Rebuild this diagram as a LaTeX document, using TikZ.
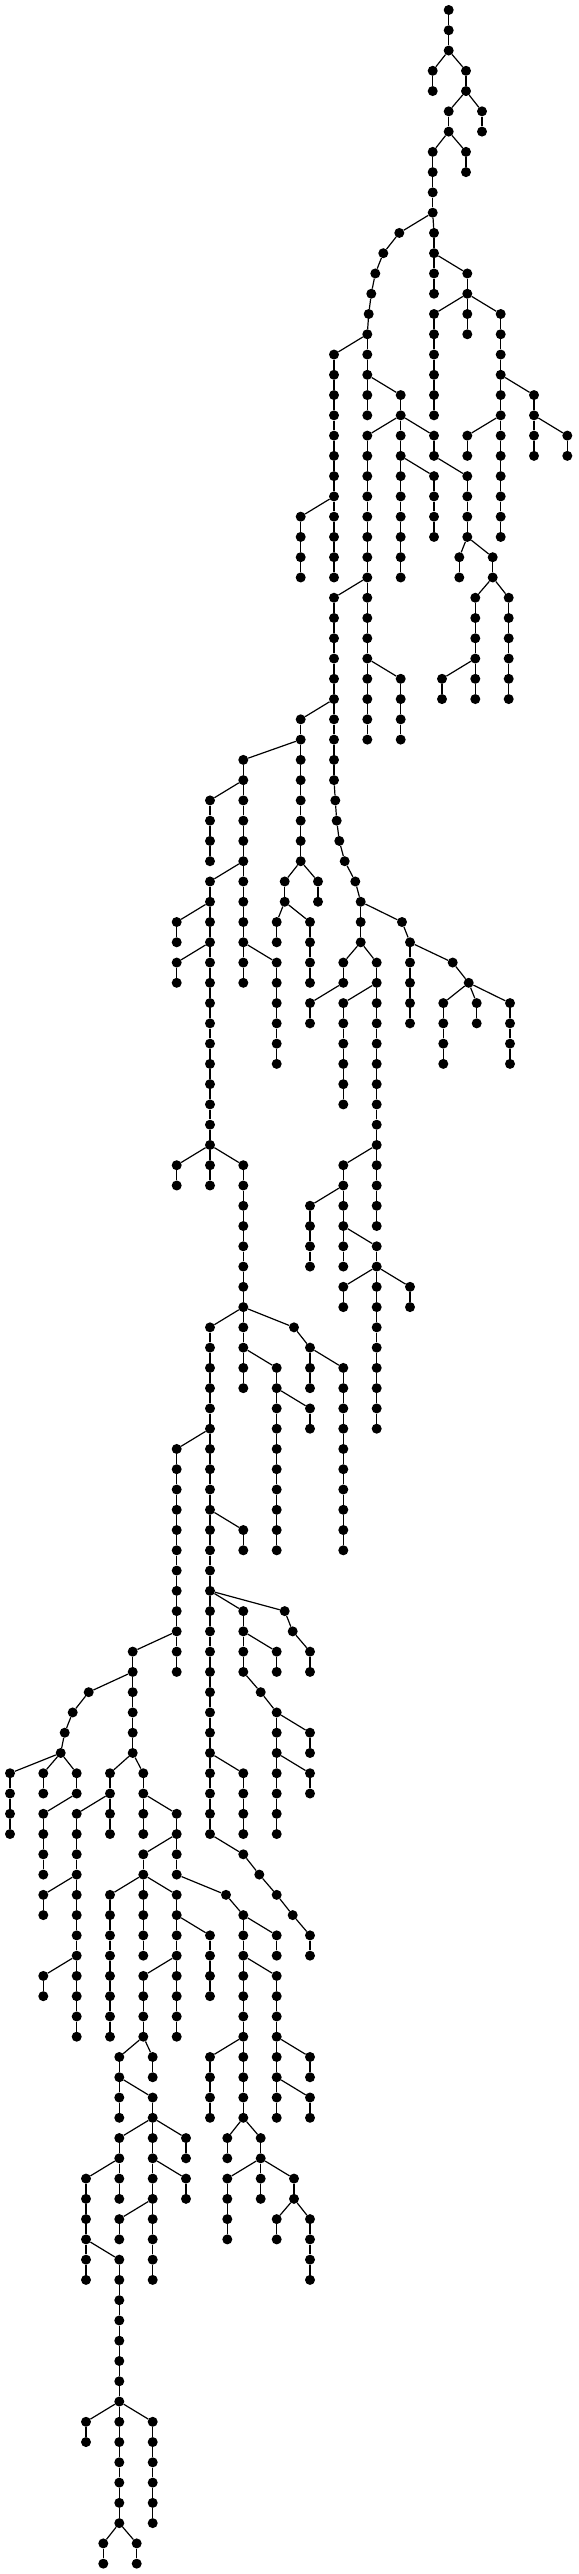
\documentclass[tikz,border=0pt]{standalone}
\tikzset{
  dot/.style={circle,fill=black,draw=none,minimum size=10pt,inner sep=0pt},
  edge/.style={line width=1.2pt,black}
}
\newcommand\tchn[4]{%
  \foreach \rr in {#3,...,#4}{\node[dot] (#1-\rr) at (#2,{-10-20.267*\rr}) {};}%
  \ifnum#3<#4\relax
    \foreach \rr in {#3,...,#4}{\ifnum\rr<#4\relax\pgfmathtruncatemacro\qq{\rr+1}\draw[edge] (#1-\rr) -- (#1-\qq);\fi}%
  \fi}
\newcommand\tnd[3]{\node[dot] (#1) at (#2,{-10-20.267*#3}) {};}
\newcommand\tedge[2]{\draw[edge] (#1) -- (#2);}
\begin{document}
\begin{tikzpicture}[x=1pt,y=1pt]
\fill[white] (0,0) rectangle (578,-2574);
\useasboundingbox (0,0) rectangle (578,-2574);
% top
\tchn{a}{448.7}{0}{2}
\tchn{b}{432.7}{3}{4} \tedge{a-2}{b-3}
\tchn{c}{466}{3}{4} \tedge{a-2}{c-3}
\tchn{d}{448.7}{5}{6} \tedge{c-4}{d-5}
\tchn{e}{482}{5}{6} \tedge{c-4}{e-5}
\tchn{f}{432.7}{7}{10} \tedge{d-6}{f-7}
\tchn{g}{466}{7}{8} \tedge{d-6}{g-7}
\tnd{h-11}{399.3}{11} \tnd{h-12}{383.3}{12} \tnd{h-13}{375.3}{13}
\tnd{h-14}{371.3}{14} \tnd{h-15}{368.7}{15} \tnd{h-16}{367.3}{16}
\tedge{f-10}{h-11} \tedge{h-11}{h-12} \tedge{h-12}{h-13} \tedge{h-13}{h-14}
\tedge{h-14}{h-15} \tedge{h-15}{h-16}
\tchn{i}{434}{11}{14} \tedge{f-10}{i-11}
\tchn{j}{467.3}{13}{16} \tedge{i-12}{j-13}
\tchn{k}{434}{15}{20} \tedge{j-14}{k-15}
\tchn{l}{500.7}{15}{26} \tedge{j-14}{l-15}
\tchn{m}{534}{19}{22} \tedge{l-18}{m-19}
\tchn{n}{567.3}{21}{22} \tedge{m-20}{n-21}
\tchn{o}{467.3}{21}{22} \tedge{l-20}{o-21}
\tchn{p}{334}{17}{28} \tedge{h-16}{p-17}
\tchn{q}{300.7}{25}{28} \tedge{p-24}{q-25}
\tchn{r}{367.3}{17}{20} \tedge{h-16}{r-17}
\tchn{s}{400.7}{19}{28} \tedge{r-18}{s-19}
\tchn{t}{367.3}{21}{36} \tedge{s-20}{t-21}
\tchn{u}{434}{21}{22} \tedge{s-20}{u-21}
\tchn{v}{434}{23}{26} \tedge{s-22}{v-23}
\tchn{y}{467.3}{23}{26} \tedge{u-22}{y-23}
\tchn{z}{459.3}{27}{28} \tedge{y-26}{z-27}
\tchn{aa}{492.7}{27}{28} \tedge{y-26}{aa-27}
\tchn{ab}{475.3}{29}{34} \tedge{aa-28}{ab-29}
\tchn{ac}{508.7}{29}{34} \tedge{aa-28}{ac-29}
\tchn{ad}{442}{33}{34} \tedge{ab-32}{ad-33}
\tchn{x}{400.7}{33}{36} \tedge{t-32}{x-33}
\tchn{w}{334}{29}{38} \tedge{t-28}{w-29}
\tnd{w-39}{335.3}{39} \tnd{w-40}{336.7}{40} \tnd{w-41}{339.3}{41}
\tnd{w-42}{344.7}{42} \tnd{w-43}{355.3}{43} \tnd{w-44}{360.7}{44}
\tedge{w-38}{w-39} \tedge{w-39}{w-40} \tedge{w-40}{w-41} \tedge{w-41}{w-42}
\tedge{w-42}{w-43} \tedge{w-43}{w-44}
\tchn{ae}{300.7}{35}{42} \tedge{w-34}{ae-35}
\tchn{ah}{318}{43}{44} \tedge{ae-42}{ah-43}
\tchn{ag}{284.7}{43}{44} \tedge{ae-42}{ag-43}
\tchn{ai}{276.7}{45}{46} \tedge{ag-44}{ai-45}
\tchn{aj}{310}{45}{48} \tedge{ag-44}{aj-45}
\tchn{af}{243.3}{37}{48} \tedge{ae-36}{af-37}
\tchn{ak}{210}{39}{42} \tedge{af-38}{ak-39}
\tchn{al}{210}{43}{58} \tedge{af-42}{al-43}
\tchn{am}{276.7}{47}{52} \tedge{af-46}{am-47}
\tchn{an}{176.7}{45}{46} \tedge{al-44}{an-45}
\tchn{ao}{176.7}{47}{48} \tedge{al-46}{ao-47}
\tchn{ap}{176.7}{57}{58} \tedge{al-56}{ap-57}
\tchn{aq}{243.3}{57}{68} \tedge{al-56}{aq-57}
\tchn{ar}{210}{65}{90} \tedge{aq-64}{ar-65}
\tnd{as-65}{294}{65} \tedge{aq-64}{as-65}
\tchn{bb}{310}{66}{68} \tedge{as-65}{bb-66}
\tchn{bc}{343.3}{67}{76} \tedge{bb-66}{bc-67}
\tchn{at}{276.7}{67}{76} \tedge{aq-66}{at-67}
\tchn{bd}{310}{69}{70} \tedge{at-68}{bd-69}
\tchn{au}{176.7}{71}{82} \tedge{ar-70}{au-71}
\tchn{av}{243.3}{75}{76} \tedge{ar-74}{av-75}
\tchn{be}{360.7}{45}{46} \tedge{w-44}{be-45}
\tchn{bf}{343.3}{47}{48} \tedge{be-46}{bf-47}
\tchn{bh}{310}{49}{50} \tedge{bf-48}{bh-49}
\tchn{bg}{376.7}{47}{60} \tedge{be-46}{bg-47}
\tchn{bi}{343.3}{49}{54} \tedge{bg-48}{bi-49}
\tchn{bj}{343.3}{57}{62} \tedge{bg-56}{bj-57}
\tchn{bk}{310}{59}{62} \tedge{bj-58}{bk-59}
\tchn{bl}{376.7}{61}{70} \tedge{bj-60}{bl-61}
\tchn{bm}{343.3}{63}{64} \tedge{bl-62}{bm-63}
\tchn{bn}{410}{63}{64} \tedge{bl-62}{bn-63}
\tnd{bo-45}{402}{45} \tedge{w-44}{bo-45}
\tchn{bp}{410}{46}{50} \tedge{bo-45}{bp-46}
\tnd{bq-47}{452.7}{47} \tedge{bp-46}{bq-47}
\tnd{br-48}{468.7}{48} \tedge{bq-47}{br-48}
\tchn{bs}{443.3}{49}{52} \tedge{br-48}{bs-49}
\tchn{bt}{476.7}{49}{50} \tedge{br-48}{bt-49}
\tchn{bu}{510}{49}{52} \tedge{br-48}{bu-49}
% lower
\tchn{ba}{132.7}{81}{86} \tedge{au-80}{ba-81}
\tnd{bv-83}{88.7}{83} \tedge{ba-82}{bv-83}
\tnd{by-84}{72.7}{84} \tedge{bv-83}{by-84}
\tnd{bz-85}{64.7}{85} \tedge{by-84}{bz-85}
\tnd{ca-86}{60.7}{86} \tedge{bz-85}{ca-86}
\tchn{cb}{10}{87}{90} \tedge{ca-86}{cb-87}
\tchn{cc}{43.3}{87}{88} \tedge{ca-86}{cc-87}
\tchn{cd}{76.7}{87}{88} \tedge{ca-86}{cd-87}
\tchn{ce}{43.3}{89}{92} \tedge{cd-88}{ce-89}
\tchn{bw}{110}{87}{90} \tedge{ba-86}{bw-87}
\tchn{cf}{76.7}{89}{100} \tedge{bw-88}{cf-89}
\tchn{cg}{43.3}{93}{94} \tedge{cf-92}{cg-93}
\tchn{ch}{43.3}{97}{98} \tedge{cf-96}{ch-97}
\tchn{bx}{143.3}{87}{90} \tedge{ba-86}{bx-87}
\tchn{ci}{176.7}{89}{92} \tedge{bx-88}{ci-89}
\tchn{cj}{143.3}{91}{92} \tedge{ci-90}{cj-91}
\tchn{cl}{110}{93}{100} \tedge{cj-92}{cl-93}
\tchn{cm}{143.3}{93}{96} \tedge{cj-92}{cm-93}
\tchn{cn}{176.7}{93}{100} \tedge{cj-92}{cn-93}
\tchn{co}{210}{95}{98} \tedge{cn-94}{co-95}
\tchn{cp}{143.3}{97}{100} \tedge{cn-96}{cp-97}
\tchn{cr}{152.7}{101}{102} \tedge{cp-100}{cr-101}
\tchn{cq}{119.3}{101}{104} \tedge{cp-100}{cq-101}
\tchn{cs}{152.7}{103}{104} \tedge{cq-102}{cs-103}
\tchn{ct}{119.3}{105}{108} \tedge{cs-104}{ct-105}
\tchn{cu}{152.7}{105}{112} \tedge{cs-104}{cu-105}
\tchn{cv}{186}{105}{106} \tedge{cs-104}{cv-105}
\tchn{cw}{86}{107}{112} \tedge{ct-106}{cw-107}
\tchn{cx}{119.3}{111}{124} \tedge{cw-110}{cx-111}
\tchn{cy}{86}{119}{120} \tedge{cx-118}{cy-119}
\tchn{cz}{152.7}{119}{124} \tedge{cx-118}{cz-119}
\tchn{da}{103.3}{125}{126} \tedge{cx-124}{da-125}
\tchn{db}{136.7}{125}{126} \tedge{cx-124}{db-125}
\tchn{dc}{186}{107}{108} \tedge{cu-106}{dc-107}
\tchn{dd}{119.3}{109}{110} \tedge{cu-108}{dd-109}
\tnd{ck-93}{226}{93} \tedge{ci-92}{ck-93}
\tchn{de}{243.3}{94}{104} \tedge{ck-93}{de-94}
\tchn{df}{276.7}{95}{96} \tedge{de-94}{df-95}
\tchn{dg}{276.7}{97}{104} \tedge{de-96}{dg-97}
\tchn{dk}{310}{101}{102} \tedge{dg-100}{dk-101}
\tchn{dl}{310}{103}{104} \tedge{dg-102}{dl-103}
\tchn{dh}{210}{101}{104} \tedge{de-100}{dh-101}
\tchn{di}{227.3}{105}{106} \tedge{de-104}{di-105}
\tchn{dj}{260.7}{105}{108} \tedge{de-104}{dj-105}
\tchn{dm}{227.3}{107}{110} \tedge{dj-106}{dm-107}
\tchn{dn}{294}{107}{108} \tedge{dj-106}{dn-107}
\tchn{dO}{276.7}{109}{110} \tedge{dn-108}{dO-109}
\tchn{dp}{310}{109}{112} \tedge{dn-108}{dp-109}
\tchn{ay}{243.3}{87}{90} \tedge{ar-86}{ay-87}
\tnd{az-91}{243.3}{91} \tedge{ar-90}{az-91}
\tnd{dq-92}{259.3}{92} \tedge{az-91}{dq-92}
\tnd{dr-93}{276.7}{93} \tedge{dq-92}{dr-93}
\tnd{ds-94}{292.7}{94} \tedge{dr-93}{ds-94}
\tchn{dt}{310}{95}{96} \tedge{ds-94}{dt-95}
\tchn{aw}{243.3}{79}{82} \tedge{ar-78}{aw-79}
\tchn{du}{276.7}{81}{82} \tedge{aw-80}{du-81}
\tnd{dv-83}{260.7}{83} \tedge{aw-82}{dv-83}
\tnd{dw-84}{276.7}{84} \tedge{dv-83}{dw-84}
\tchn{dx}{276.7}{85}{90} \tedge{dw-84}{dx-85}
\tchn{dy}{310}{85}{86} \tedge{dw-84}{dy-85}
\tchn{dz}{310}{87}{88} \tedge{dx-86}{dz-87}
\tnd{ax-79}{284.7}{79} \tedge{ar-78}{ax-79}
\tnd{ea-80}{292.7}{80} \tedge{ax-79}{ea-80}
\tchn{eb}{310}{81}{82} \tedge{ea-80}{eb-81}
\end{tikzpicture}
\end{document}
